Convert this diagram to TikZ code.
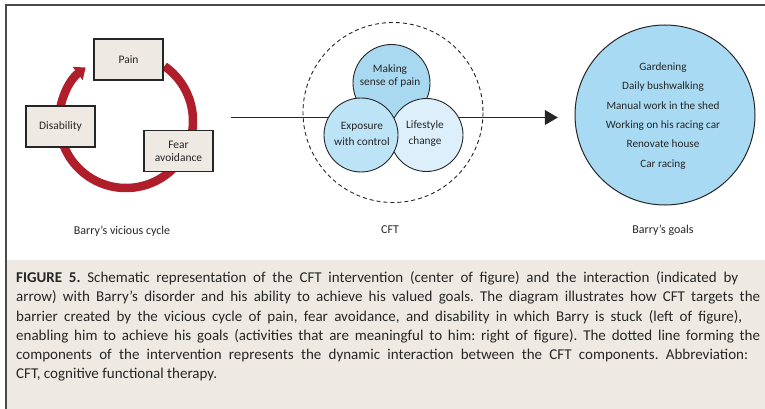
\documentclass[tikz,border=0pt]{standalone}
\usepackage{fontspec}
\setmainfont{Carlito}
\usetikzlibrary{arrows.meta}

\definecolor{framegray}{HTML}{4A4A4A}
\definecolor{paper}{HTML}{EEEAE3}
\definecolor{ink}{HTML}{262626}
\definecolor{cyclered}{HTML}{B01E2C}
\definecolor{blueA}{HTML}{A9D9F1}
\definecolor{blueB}{HTML}{BDE3F6}
\definecolor{blueC}{HTML}{DCEFFA}
\definecolor{goalblue}{HTML}{A8DAF3}

\tikzset{
  stagebox/.style={draw=ink, line width=1.1pt, fill=paper, minimum width=69pt,
    minimum height=41pt, inner sep=0pt, align=center, font=\fontsize{11.5}{13}\selectfont, text=ink},
  part/.style={circle, draw=ink, line width=0.9pt, inner sep=0pt},
  lbl/.style={font=\fontsize{12}{14}\selectfont, text=ink, inner sep=0pt},
  capline/.style={anchor=west, inner sep=0pt, font=\fontsize{15}{18}\selectfont, text=ink},
}
% caption line stretched to a given width
\newcommand{\capfill}[2]{\makebox[#1pt][s]{#2}}
\frenchspacing

\begin{document}
\begin{tikzpicture}[x=1pt, y=-1pt]
\useasboundingbox (0,0) rectangle (765,409);

% figure frame and caption panel
\fill[paper] (7,260) rectangle (765,409);
\draw[framegray, line width=2pt] (6,409) -- (6,5.5) -- (765,5.5);

% ---- vicious cycle ----
\coordinate (cyc) at (126,121);
\draw[cyclered, line width=8.5pt, -{Triangle[width=16pt,length=10pt]}]
  (cyc) ++(-55:67) arc[start angle=-55, end angle=233, radius=67];
\node[stagebox] (pain) at (128.5,59.5) {Pain};
\node[stagebox] (disab) at (60.5,126.5) {Disability};
\node[stagebox] (fear) at (178.5,151) {Fear\\avoidance};
\node[lbl] (cyclbl) at (122,231) {Barry’s vicious cycle};

% ---- CFT ----
\coordinate (start) at (231,117.5);
\node[circle, minimum size=180pt, inner sep=0pt] (cft) at (393,112.5) {};
\node[circle, minimum size=180pt, inner sep=0pt] (goals) at (665,115) {};
\draw[ink, line width=1pt, -{Triangle[width=15pt,length=13pt]}, shorten >=17pt]
  (start) -- (start -| goals.west);

\draw[ink, line width=0.9pt, dash pattern=on 4pt off 3pt] (cft.center) circle[radius=90];
\node[part, fill=blueA, minimum size=77pt] (sense) at (391.5,83) {};
\node[part, fill=blueC, minimum size=73pt] (life) at (426.5,135) {};
\node[part, fill=blueB, minimum size=74pt] (expo) at (361,135) {};
\node[lbl, align=center, font=\fontsize{11.3}{12.5}\selectfont] at (390,76) {Making\\sense of pain};
\node[lbl, align=center, font=\fontsize{11.3}{16}\selectfont] at (362,134) {Exposure\\with control};
\node[lbl, align=center, font=\fontsize{11.3}{16}\selectfont] at (425,134) {Lifestyle\\change};
\node[lbl] (cftlbl) at (390,230) {CFT};

% ---- goals ----
\fill[goalblue] (goals.center) circle[radius=90];
\draw[ink, line width=1pt] (goals.center) circle[radius=90];
\node[lbl, align=center, font=\fontsize{11.2}{19.3}\selectfont] (goallist) at (663,116)
  {Gardening\\Daily bushwalking\\Manual work in the shed\\Working on his racing car\\Renovate house\\Car racing};
\node[lbl] (goallbl) at (663,230) {Barry’s goals};

% ---- caption ----
\node[capline] (c1) at (16,278) {\capfill{722}{\textbf{FIGURE 5.} Schematic representation of the CFT intervention (center of figure) and the interaction (indicated by}};
\node[capline] (c2) at (16,297.5) {\capfill{744}{arrow) with Barry’s disorder and his ability to achieve his valued goals. The diagram illustrates how CFT targets the}};
\node[capline] (c3) at (16,316.8) {\capfill{726}{barrier created by the vicious cycle of pain, fear avoidance, and disability in which Barry is stuck (left of figure),}};
\node[capline] (c4) at (16,336) {\capfill{744}{enabling him to achieve his goals (activities that are meaningful to him: right of figure). The dotted line forming the}};
\node[capline] (c5) at (16,355.3) {\capfill{732}{components of the intervention represents the dynamic interaction between the CFT components. Abbreviation:}};
\node[capline] (c6) at (16,374.5) {CFT, cognitive functional therapy.};
\end{tikzpicture}
\end{document}
